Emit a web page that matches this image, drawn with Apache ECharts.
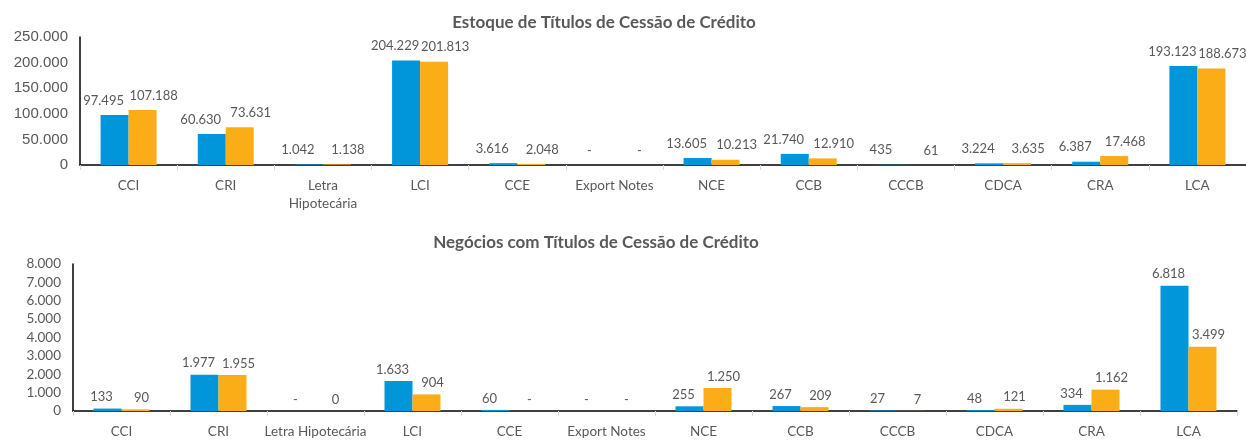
<!DOCTYPE html>
<html>
<head>
<meta charset="utf-8">
<script src="https://cdn.jsdelivr.net/npm/echarts@6/dist/echarts.min.js"></script>
<style>
  html, body { margin: 0; padding: 0; background: #fff; }
  #chart { width: 1246px; height: 441px; }
</style>
</head>
<body>
<div id="chart"></div>
<script>
// categorias
const categoriasEstoque = ['CCI', 'CRI', 'Letra\nHipotecária', 'LCI', 'CCE', 'Export Notes', 'NCE', 'CCB', 'CCCB', 'CDCA', 'CRA', 'LCA'];
const categoriasNegocios = ['CCI', 'CRI', 'Letra Hipotecária', 'LCI', 'CCE', 'Export Notes', 'NCE', 'CCB', 'CCCB', 'CDCA', 'CRA', 'LCA'];

// estoque (R$ milhões)
const estoqueAnterior = [97495, 60630, 1042, 204229, 3616, 0, 13605, 21740, 435, 3224, 6387, 193123];
const estoqueAtual = [107188, 73631, 1138, 201813, 2048, 0, 10213, 12910, 61, 3635, 17468, 188673];

// negócios
const negociosAnterior = [133, 1977, 0, 1633, 60, 0, 255, 267, 27, 48, 334, 6818];
const negociosAtual = [90, 1955, 0.3, 904, 0, 0, 1250, 209, 7, 121, 1162, 3499];

const AZUL = '#0096d9';
const LARANJA = '#fbad18';
const CINZA = '#595959';

function fmt(v) {
  if (v === 0) return '-';
  return String(Math.round(v)).replace(/\B(?=(\d{3})+(?!\d))/g, '.');
}

function label(dx, dist) {
  return {
    show: true,
    position: 'top',
    distance: dist,
    offset: [dx, 0],
    color: CINZA,
    fontFamily: 'Lato',
    fontSize: 13,
    formatter: p => fmt(p.value),
  };
}

const chart = echarts.init(document.getElementById('chart'));

const xCommon = {
  type: 'category',
  axisLine: { lineStyle: { color: '#000', width: 1.5 } },
  axisTick: { show: true, length: 5, lineStyle: { color: '#d9d9d9' } },
  axisLabel: { color: CINZA, fontFamily: 'Lato', fontSize: 13.5, margin: 12, lineHeight: 18, interval: 0 },
};

const options = {
  animation: false,
  title: [
    {
      text: 'Estoque de Títulos de Cessão de Crédito',
      left: 599, top: 9, textAlign: 'center',
      textStyle: { color: CINZA, fontFamily: 'Lato', fontWeight: 'bold', fontSize: 17 },
    },
    {
      text: 'Negócios com Títulos de Cessão de Crédito',
      left: 591, top: 229, textAlign: 'center',
      textStyle: { color: CINZA, fontFamily: 'Lato', fontWeight: 'bold', fontSize: 17 },
    },
  ],
  grid: [
    { left: 80, right: 0, top: 37, bottom: 276 },
    { left: 73, right: 9, top: 264, bottom: 26 },
  ],
  xAxis: [
    Object.assign({}, xCommon, { gridIndex: 0, data: categoriasEstoque }),
    Object.assign({}, xCommon, { gridIndex: 1, data: categoriasNegocios }),
  ],
  yAxis: [
    {
      type: 'value', gridIndex: 0, min: 0, max: 250000, interval: 50000,
      splitLine: { show: false },
      axisLine: { show: true, lineStyle: { color: '#000', width: 1.5 } },
      axisTick: { show: false },
      axisLabel: { color: CINZA, fontFamily: 'Liberation Sans', fontSize: 15, margin: 12, formatter: v => v === 0 ? '0' : fmt(v) },
    },
    {
      type: 'value', gridIndex: 1, min: 0, max: 8000, interval: 1000,
      splitLine: { show: false },
      axisLine: { show: true, lineStyle: { color: '#000', width: 1.5 } },
      axisTick: { show: false },
      axisLabel: { color: CINZA, fontFamily: 'Lato', fontSize: 13.5, margin: 12, formatter: v => v === 0 ? '0' : fmt(v) },
    },
  ],
  series: [
    {
      type: 'bar', xAxisIndex: 0, yAxisIndex: 0, data: estoqueAnterior,
      barWidth: 28, barGap: '0%',
      itemStyle: { color: AZUL },
      label: label(-11, 8),
    },
    {
      type: 'bar', xAxisIndex: 0, yAxisIndex: 0, data: estoqueAtual,
      barWidth: 28, barGap: '0%',
      itemStyle: { color: LARANJA },
      label: label(11, 8),
    },
    {
      type: 'bar', xAxisIndex: 1, yAxisIndex: 1, data: negociosAnterior,
      barWidth: 28, barGap: '0%',
      itemStyle: { color: AZUL },
      label: label(-6, 5),
    },
    {
      type: 'bar', xAxisIndex: 1, yAxisIndex: 1, data: negociosAtual,
      barWidth: 28, barGap: '0%',
      itemStyle: { color: LARANJA },
      label: label(6, 5),
    },
  ],
};

chart.setOption(options);
</script>
</body>
</html>
